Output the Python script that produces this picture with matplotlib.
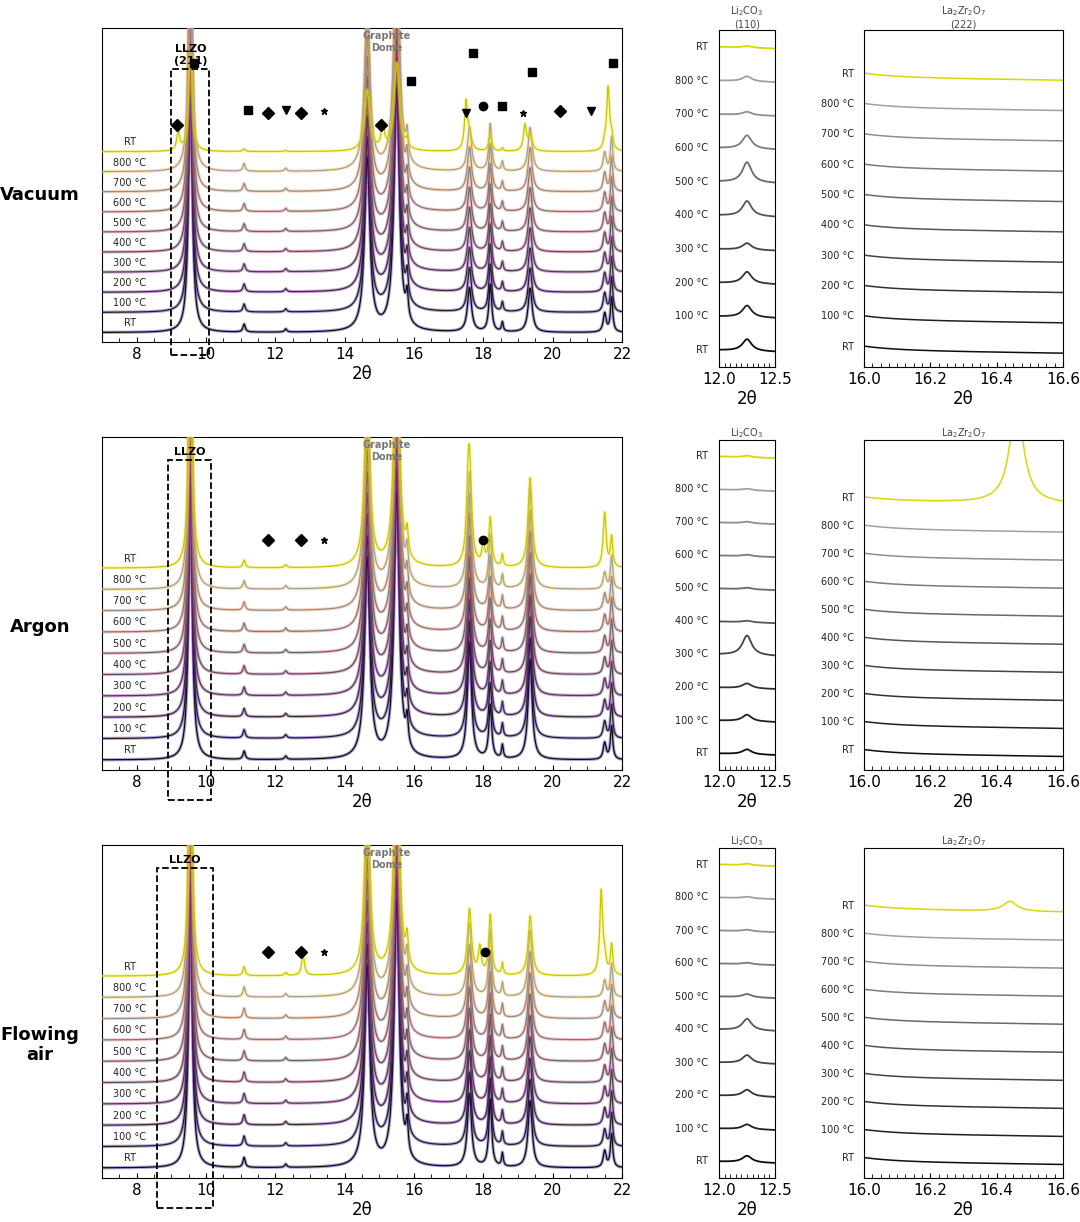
import numpy as np
import matplotlib.pyplot as plt
from matplotlib.patches import Rectangle
import matplotlib.transforms as mtransforms

# --- data ---
temps = ['RT', '100 °C', '200 °C', '300 °C', '400 °C', '500 °C', '600 °C', '700 °C', '800 °C', 'RT']
rows = ['Vacuum', 'Argon', 'Flowing\nair']

# main-panel peaks: position, height (in axis units), width
main_pos = [9.55, 11.1, 12.3, 14.65, 15.5, 15.8, 17.6, 18.2, 18.55, 19.35, 21.5, 21.7]
main_h = {
    'Vacuum':      [9.0, 0.25, 0.1, 5.5, 8.0, 0.8, 1.4, 1.5, 0.3, 1.4, 0.6, 1.1],
    'Argon':       [9.0, 0.25, 0.1, 6.0, 8.0, 0.8, 3.5, 1.6, 0.4, 3.0, 0.5, 1.0],
    'Flowing\nair': [9.0, 0.3, 0.1, 6.0, 8.0, 0.9, 2.2, 2.0, 0.4, 2.0, 0.5, 1.0],
}
main_w = [0.06, 0.04, 0.04, 0.09, 0.09, 0.04, 0.07, 0.05, 0.03, 0.07, 0.05, 0.04]
# scale of the main peaks in the top RT (after heating) trace
rt_scale = {'Vacuum': 0.35, 'Argon': 0.9, 'Flowing\nair': 0.9}
# top RT extra peaks: position, height
rt_pos = {
    'Vacuum':      [9.2, 15.1, 17.5, 19.2, 21.6],
    'Argon':       [17.55, 18.0, 21.5],
    'Flowing\nair': [12.8, 17.9, 21.4],
}
rt_h = {
    'Vacuum':      [0.6, 0.8, 1.5, 0.8, 2.0],
    'Argon':       [1.0, 0.6, 1.2],
    'Flowing\nair': [0.6, 0.8, 2.5],
}

# Li2CO3 (110) peak height near 12.25 per trace
li_h = {
    'Vacuum':      [0.35, 0.35, 0.35, 0.2, 0.45, 0.6, 0.4, 0.1, 0.15, 0.05],
    'Argon':       [0.15, 0.2, 0.15, 0.6, 0.05, 0.05, 0.05, 0.05, 0.05, 0.05],
    'Flowing\nair': [0.2, 0.15, 0.2, 0.25, 0.35, 0.1, 0.05, 0.05, 0.05, 0.05],
}
# La2Zr2O7 (222) peak height per trace
la_h = {
    'Vacuum':      [0.0] * 10,
    'Argon':       [0.0] * 9 + [3.0],
    'Flowing\nair': [0.0] * 9 + [0.3],
}
la_pos = {'Vacuum': 16.45, 'Argon': 16.46, 'Flowing\nair': 16.44}

# phase markers per row: x, y (data), marker
markers = {
    'Vacuum': [(9.65, 8.9, 's'), (9.15, 6.9, 'D'), (11.2, 7.4, 's'), (11.8, 7.3, 'D'), (12.3, 7.4, 'v'),
               (12.75, 7.3, 'D'), (13.4, 7.35, '*'), (15.05, 6.9, 'D'), (15.9, 8.3, 's'),
               (17.5, 7.3, 'v'), (17.7, 9.2, 's'), (18.0, 7.5, 'o'), (18.55, 7.5, 's'),
               (19.15, 7.3, '*'), (19.4, 8.6, 's'), (20.2, 7.35, 'D'), (21.1, 7.35, 'v'),
               (21.75, 8.9, 's')],
    'Argon': [(11.8, 6.9, 'D'), (12.75, 6.9, 'D'), (13.4, 6.9, '*'), (18.0, 6.9, 'o')],
    'Flowing\nair': [(11.8, 6.8, 'D'), (12.75, 6.8, 'D'), (13.4, 6.8, '*'), (18.05, 6.8, 'o')],
}
llzo_box = {'Vacuum': (9.0, 10.1), 'Argon': (8.9, 10.15), 'Flowing\nair': (8.6, 10.2)}
llzo_txt = {'Vacuum': 'LLZO\n(211)', 'Argon': 'LLZO', 'Flowing\nair': 'LLZO'}
li_title = {'Vacuum': 'Li$_2$CO$_3$\n(110)', 'Argon': 'Li$_2$CO$_3$', 'Flowing\nair': 'Li$_2$CO$_3$'}
la_title = {'Vacuum': 'La$_2$Zr$_2$O$_7$\n(222)', 'Argon': 'La$_2$Zr$_2$O$_7$', 'Flowing\nair': 'La$_2$Zr$_2$O$_7$'}


def lor(x, p, h, w):
    return h * w ** 2 / ((x - p) ** 2 + w ** 2)


glow = plt.cm.plasma(np.linspace(0.0, 0.95, 10))
greys = [str(g) for g in np.linspace(0.05, 0.7, 10)]

W, H = 1080, 1222
fig = plt.figure(figsize=(W / 100, H / 100), dpi=100)

def ax_px(x0, y0, x1, y1):
    return fig.add_axes([x0 / W, 1 - y1 / H, (x1 - x0) / W, (y1 - y0) / H])

# pixel boxes: main, Li2CO3, La2Zr2O7, row label y
boxes = [
    ((102, 28, 622, 342), (719, 30, 775, 367), (864, 30, 1063, 367), 195),
    ((102, 437, 622, 770), (719, 440, 775, 770), (864, 440, 1063, 770), 627),
    ((102, 845, 622, 1178), (719, 848, 775, 1178), (864, 848, 1063, 1178), 1045),
]
spacing = 0.64
x_main = np.linspace(7, 22, 3000)

for r, (bm, bl, ba, ylab) in zip(rows, boxes):
    ax = ax_px(*bm)
    for i in range(10):
        base = 0.3 + i * spacing
        y = np.full_like(x_main, base)
        scale = 1.0 if i < 9 else rt_scale[r]
        for p, h, w in zip(main_pos, main_h[r], main_w):
            y += lor(x_main, p, h * scale, w)
        if i == 9:
            for p, h in zip(rt_pos[r], rt_h[r]):
                y += lor(x_main, p, h, 0.05)
        ax.plot(x_main, y, color=glow[i], lw=2.4, alpha=0.35, zorder=i * 2)
        ax.plot(x_main, y, color=greys[i] if i < 9 else '#c8c800', lw=0.9, zorder=i * 2 + 1)
        ax.text(7.8, base + 0.2, temps[i], fontsize=7, color='#222222', ha='center', zorder=40)
    for mx, my, mk in markers[r]:
        ax.plot(mx, my, marker=mk, color='black', ms=6 if mk != '*' else 5, zorder=50)
    ax.set_xlim(7, 22)
    ax.set_ylim(0, 10)
    ax.set_yticks([])
    ax.set_xticks(range(8, 23, 2))
    ax.set_xticks(np.arange(7, 22.01, 0.5), minor=True)
    ax.tick_params(direction='in', labelsize=11)
    ax.tick_params(which='minor', direction='in', length=3)
    ax.set_xlabel('2θ', fontsize=12, labelpad=2)
    trans = mtransforms.blended_transform_factory(ax.transData, ax.transAxes)
    x0, x1 = llzo_box[r]
    top = 0.87 if r == 'Vacuum' else 0.93
    bot = -0.04 if r == 'Vacuum' else -0.09
    ax.add_patch(Rectangle((x0, bot), x1 - x0, top - bot, transform=trans, fill=False,
                           ls='--', lw=1.3, ec='black', clip_on=False, zorder=60))
    ax.text((x0 + x1) / 2, top + 0.01, llzo_txt[r], transform=trans, ha='center', va='bottom',
            fontsize=8, fontweight='bold', zorder=60)
    ax.text(15.2, 0.99, 'Graphite\nDome', transform=trans, ha='center', va='top',
            fontsize=7, color='#777777', fontweight='bold', zorder=60)
    fig.text(40 / W, 1 - ylab / H, r, ha='center', va='center',
             fontsize=13, fontweight='bold')

    # Li2CO3 panel
    axl = ax_px(*bl)
    xl = np.linspace(12.0, 12.5, 300)
    for i in range(10):
        base = 0.5 + i * 1.0
        y = base + lor(xl, 12.25, li_h[r][i], 0.05) - 0.1 * (xl - 12.0)
        axl.plot(xl, y, color=greys[i] if i < 9 else '#d8d800', lw=1.3)
        axl.text(-0.2, base, temps[i], transform=mtransforms.blended_transform_factory(axl.transAxes, axl.transData),
                 ha='right', va='center', fontsize=7, color='#222222')
    axl.set_xlim(12.0, 12.5)
    axl.set_ylim(0, 10)
    axl.set_yticks([])
    axl.set_xticks([12.0, 12.5])
    axl.set_xticklabels(['12.0', '12.5'])
    axl.set_xticks(np.arange(12.0, 12.51, 0.05), minor=True)
    axl.tick_params(direction='in', labelsize=11)
    axl.tick_params(which='minor', direction='in', length=3)
    axl.set_xlabel('2θ', fontsize=12, labelpad=2)
    axl.set_title(li_title[r], fontsize=7, color='#444444', pad=2)

    # La2Zr2O7 panel
    axa = ax_px(*ba)
    xa = np.linspace(16.0, 16.6, 400)
    sp = 0.9 if r == 'Vacuum' else 0.85
    for i in range(10):
        base = 0.5 + i * sp
        y = base + 0.12 * np.exp(-(xa - 16.0) / 0.1) - 0.15 * (xa - 16.0) + lor(xa, la_pos[r], la_h[r][i], 0.025)
        axa.plot(xa, y, color=greys[i] if i < 9 else '#d8d800', lw=1.1)
        axa.text(-0.05, base + 0.1, temps[i], transform=mtransforms.blended_transform_factory(axa.transAxes, axa.transData),
                 ha='right', va='center', fontsize=7, color='#222222')
    axa.set_xlim(16.0, 16.6)
    axa.set_ylim(0, 10)
    axa.set_yticks([])
    axa.set_xticks([16.0, 16.2, 16.4, 16.6])
    axa.set_xticklabels(['16.0', '16.2', '16.4', '16.6'])
    axa.set_xticks(np.arange(16.0, 16.61, 0.025), minor=True)
    axa.tick_params(direction='in', labelsize=11)
    axa.tick_params(which='minor', direction='in', length=3)
    axa.set_xlabel('2θ', fontsize=12, labelpad=2)
    axa.set_title(la_title[r], fontsize=7, color='#444444', pad=2)

fig.savefig('out.png', dpi=100)
